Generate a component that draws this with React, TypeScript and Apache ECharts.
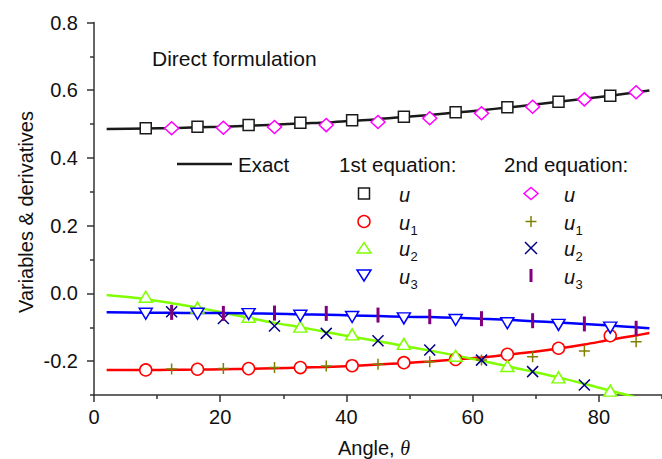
import React, { useEffect, useRef } from 'react';
import * as echarts from 'echarts';

// ---------- data ----------
const lineTheta = [2, 8.2, 12.3, 16.4, 20.5, 24.5, 28.6, 32.7, 36.8, 40.9, 45.0, 49.1, 53.2, 57.3, 61.4, 65.5, 69.5, 73.6, 77.7, 81.8, 85.9, 88];
const exactU = [0.4855, 0.487, 0.488, 0.4905, 0.492, 0.495, 0.498, 0.502, 0.505, 0.510, 0.5145, 0.521, 0.527, 0.534, 0.541, 0.549, 0.557, 0.566, 0.575, 0.584, 0.594, 0.599];
const exactU1 = [-0.226, -0.226, -0.2255, -0.225, -0.224, -0.223, -0.221, -0.219, -0.217, -0.214, -0.210, -0.206, -0.201, -0.195, -0.189, -0.181, -0.173, -0.163, -0.151, -0.137, -0.124, -0.117];
const exactU2 = [-0.005, -0.017, -0.029, -0.042, -0.057, -0.072, -0.087, -0.100, -0.114, -0.128, -0.141, -0.155, -0.169, -0.183, -0.199, -0.215, -0.231, -0.248, -0.267, -0.287, -0.307, -0.318];
const exactU3 = [-0.056, -0.057, -0.057, -0.058, -0.058, -0.059, -0.060, -0.062, -0.063, -0.065, -0.067, -0.069, -0.070, -0.072, -0.075, -0.078, -0.082, -0.086, -0.090, -0.095, -0.100, -0.103];

const eq1Theta = [8.2, 16.4, 24.5, 32.7, 40.9, 49.1, 57.3, 65.5, 73.6, 81.8];
const eq1U = [0.4876, 0.4924, 0.4973, 0.504, 0.511, 0.522, 0.535, 0.5496, 0.566, 0.584];
const eq1U1 = [-0.226, -0.224, -0.222, -0.219, -0.2135, -0.2046, -0.1947, -0.180, -0.162, -0.125];
const eq1U2 = [-0.010, -0.042, -0.069, -0.098, -0.121, -0.149, -0.184, -0.2145, -0.248, -0.287];
const eq1U3 = [-0.060, -0.060, -0.061, -0.066, -0.0697, -0.0736, -0.0787, -0.088, -0.093, -0.101];

const eq2Theta = [12.3, 20.5, 28.6, 36.8, 45.0, 53.2, 61.4, 69.5, 77.7, 85.9];
const eq2U = [0.4876, 0.489, 0.4915, 0.497, 0.506, 0.517, 0.532, 0.551, 0.573, 0.594];
const eq2U1 = [-0.2235, -0.2215, -0.219, -0.2145, -0.2095, -0.2017, -0.197, -0.187, -0.170, -0.143];
const eq2U2 = [-0.054, -0.074, -0.096, -0.118, -0.140, -0.167, -0.197, -0.231, -0.2705];
const eq2U3 = [-0.056, -0.059, -0.058, -0.059, -0.064, -0.0688, -0.0747, -0.0806, -0.090, -0.103];

const xTicks = [0, 20, 40, 60, 80];
const xMinorTicks = [10, 30, 50, 70, 90];
const yTicks = [-0.2, 0, 0.2, 0.4, 0.6, 0.8];
const yMinorTicks = [-0.3, -0.1, 0.1, 0.3, 0.5, 0.7];

const titleText = 'Direct formulation';
const yTitle = 'Variables & derivatives';
const xTitle = 'Angle, ';
const exactLabel = 'Exact';
const eq1Label = '1st equation:';
const eq2Label = '2nd equation:';
const subs = ['', '1', '2', '3'];

// ---------- styles ----------
const FONT = 'Liberation Sans, Arial, sans-serif';
const TXT = '#111';
const AX = '#333';
const C_BLACK = '#1a1a1a';
const C_RED = '#ff0000';
const C_GREEN = '#80ff00';
const C_BLUE = '#0000ff';
const C_MAG = '#ff00ff';
const C_OLIVE = '#808000';
const C_NAVY = '#000080';
const C_PURPLE = '#800080';

const W = 662;
const H = 459;
const G_LEFT = 94;
const G_TOP = 22.5;
const G_BOTTOM = 64;
const G_RIGHT = 0;

const zip = (xs: number[], ys: number[]) => ys.map((y, i) => [xs[i], y]);

const PLUS = 'path://M5 0L5 10M0 5L10 5';
const CROSS = 'path://M0 0L10 10M10 0L0 10';

function lineSeries(data: number[], color: string) {
  return {
    type: 'line',
    data: zip(lineTheta, data),
    smooth: 0.3,
    symbol: 'none',
    showSymbol: false,
    clip: true,
    z: 2,
    lineStyle: { color, width: 2.5 },
  };
}

function scatter(xs: number[], ys: number[], symbol: string, size: any, fill: string, stroke: string, bw: number, rotate = 0) {
  return {
    type: 'scatter',
    data: zip(xs, ys),
    symbol,
    symbolSize: size,
    symbolRotate: rotate,
    clip: true,
    z: 3,
    itemStyle: { color: fill, borderColor: stroke, borderWidth: bw, opacity: 1 },
  };
}

function legendGraphics() {
  const c1 = 364;
  const c2 = 531;
  const t1 = 399;
  const t2 = 564;
  const rows = [193.5, 221.5, 248, 275.5];
  const els: any[] = [];
  const lw = 1.5;
  // column 1
  els.push({ type: 'rect', shape: { x: c1 - 5.5, y: rows[0] - 5.5, width: 11, height: 11 }, style: { fill: '#fff', stroke: C_BLACK, lineWidth: lw } });
  els.push({ type: 'circle', shape: { cx: c1, cy: rows[1], r: 6 }, style: { fill: '#fff', stroke: C_RED, lineWidth: lw } });
  els.push({ type: 'polygon', shape: { points: [[c1 - 7, rows[2] + 5], [c1 + 7, rows[2] + 5], [c1, rows[2] - 5.5]] }, style: { fill: '#fff', stroke: C_GREEN, lineWidth: lw } });
  els.push({ type: 'polygon', shape: { points: [[c1 - 7, rows[3] - 5.5], [c1 + 7, rows[3] - 5.5], [c1, rows[3] + 5.5]] }, style: { fill: '#fff', stroke: C_BLUE, lineWidth: lw } });
  // column 2
  els.push({ type: 'polygon', shape: { points: [[c2 - 7, rows[0]], [c2, rows[0] - 6], [c2 + 7, rows[0]], [c2, rows[0] + 6]] }, style: { fill: '#fff', stroke: C_MAG, lineWidth: lw } });
  els.push({ type: 'line', shape: { x1: c2 - 5.5, y1: rows[1], x2: c2 + 5.5, y2: rows[1] }, style: { stroke: C_OLIVE, lineWidth: lw } });
  els.push({ type: 'line', shape: { x1: c2, y1: rows[1] - 5.5, x2: c2, y2: rows[1] + 5.5 }, style: { stroke: C_OLIVE, lineWidth: lw } });
  els.push({ type: 'line', shape: { x1: c2 - 6, y1: rows[2] - 6, x2: c2 + 6, y2: rows[2] + 6 }, style: { stroke: C_NAVY, lineWidth: lw } });
  els.push({ type: 'line', shape: { x1: c2 - 6, y1: rows[2] + 6, x2: c2 + 6, y2: rows[2] - 6 }, style: { stroke: C_NAVY, lineWidth: lw } });
  els.push({ type: 'rect', shape: { x: c2 - 1.5, y: rows[3] - 6.5, width: 3, height: 13 }, style: { fill: C_PURPLE } });
  // labels
  [t1, t2].forEach((tx) => {
    rows.forEach((ry, i) => {
      els.push({ type: 'text', x: tx, y: ry + 1, style: { text: 'u', fontSize: 20, fontStyle: 'italic', fontFamily: FONT, fill: TXT, align: 'left', verticalAlign: 'middle' } });
      if (subs[i]) {
        els.push({ type: 'text', x: tx + 11.5, y: ry + 8.5, style: { text: subs[i], fontSize: 13, fontFamily: FONT, fill: TXT, align: 'left', verticalAlign: 'middle' } });
      }
    });
  });
  // header row
  els.push({ type: 'line', shape: { x1: 177, y1: 164, x2: 232, y2: 164 }, style: { stroke: C_BLACK, lineWidth: 2.5 } });
  els.push({ type: 'text', x: 238, y: 164.5, style: { text: exactLabel, fontSize: 20.5, fontFamily: FONT, fill: TXT, align: 'left', verticalAlign: 'middle' } });
  els.push({ type: 'text', x: 339, y: 164.5, style: { text: eq1Label, fontSize: 20.5, fontFamily: FONT, fill: TXT, align: 'left', verticalAlign: 'middle' } });
  els.push({ type: 'text', x: 504, y: 164.5, style: { text: eq2Label, fontSize: 20.5, fontFamily: FONT, fill: TXT, align: 'left', verticalAlign: 'middle' } });
  return els;
}

export default function App() {
  const ref = useRef<HTMLDivElement>(null);
  useEffect(() => {
    if (!ref.current) return;
    const chart = echarts.init(ref.current, undefined, { renderer: 'svg' });
    const gridH = H - G_TOP - G_BOTTOM;
    const gridW = W - G_LEFT - G_RIGHT;
    const option: any = {
      animation: false,
      backgroundColor: '#fff',
      grid: { left: G_LEFT, right: G_RIGHT, top: G_TOP, bottom: G_BOTTOM, containLabel: false },
      xAxis: [
        {
          type: 'value', min: 0, max: 90, position: 'bottom',
          axisLine: { onZero: false, lineStyle: { color: AX, width: 1.5 } },
          axisTick: { customValues: xTicks, length: 7, lineStyle: { color: AX, width: 1.5 } },
          axisLabel: { customValues: xTicks, fontSize: 20, fontFamily: FONT, color: TXT, margin: 12 },
          splitLine: { show: false },
        },
        {
          type: 'value', min: 0, max: 90, position: 'top', offset: -gridH,
          axisLine: { show: false, onZero: false },
          axisTick: { customValues: xMinorTicks, length: 4, inside: true, lineStyle: { color: AX, width: 1.5 } },
          axisLabel: { show: false },
          splitLine: { show: false },
        },
      ],
      yAxis: [
        {
          type: 'value', min: -0.3, max: 0.8, position: 'left',
          axisLine: { show: true, onZero: false, lineStyle: { color: AX, width: 1.5 } },
          axisTick: { show: true, customValues: yTicks, length: 7, lineStyle: { color: AX, width: 1.5 } },
          axisLabel: { customValues: yTicks, fontSize: 20, fontFamily: FONT, color: TXT, margin: 16, formatter: (v: number) => v.toFixed(1) },
          splitLine: { show: false },
        },
        {
          type: 'value', min: -0.3, max: 0.8, position: 'right', offset: -gridW,
          axisLine: { show: false, onZero: false },
          axisTick: { show: true, customValues: yMinorTicks, length: 4, inside: true, lineStyle: { color: AX, width: 1.5 } },
          axisLabel: { show: false },
          splitLine: { show: false },
        },
      ],
      series: [
        lineSeries(exactU, C_BLACK),
        lineSeries(exactU1, C_RED),
        lineSeries(exactU2, C_GREEN),
        lineSeries(exactU3, C_BLUE),
        scatter(eq1Theta, eq1U, 'rect', 11, '#fff', C_BLACK, 1.5),
        scatter(eq2Theta, eq2U, 'diamond', [14, 13], '#fff', C_MAG, 1.5),
        scatter(eq1Theta, eq1U1, 'circle', 12, '#fff', C_RED, 1.5),
        scatter(eq1Theta, eq1U2, 'triangle', [13, 11], '#fff', C_GREEN, 1.5),
        scatter(eq1Theta, eq1U3, 'triangle', [13, 11], '#fff', C_BLUE, 1.5, 180),
        scatter(eq2Theta, eq2U1, PLUS, 11, 'rgba(0,0,0,0)', C_OLIVE, 1.5),
        scatter(eq2Theta, eq2U2, CROSS, 11, 'rgba(0,0,0,0)', C_NAVY, 1.5),
        scatter(eq2Theta, eq2U3, 'rect', [3, 15], C_PURPLE, C_PURPLE, 0),
      ],
      graphic: [
        { type: 'text', x: 152, y: 58, style: { text: titleText, fontSize: 21, fontFamily: FONT, fill: TXT, align: 'left', verticalAlign: 'middle' } },
        { type: 'text', x: 25.5, y: 212, rotation: Math.PI / 2, style: { text: yTitle, fontSize: 20, fontFamily: FONT, fill: TXT, align: 'center', verticalAlign: 'middle' } },
        {
          type: 'text', x: 374, y: 448,
          style: {
            text: '{a|' + xTitle + '}{t|θ}',
            align: 'center', verticalAlign: 'middle',
            rich: {
              a: { fontSize: 20, fontFamily: FONT, fill: TXT },
              t: { fontSize: 20, fontFamily: 'Liberation Serif, serif', fontStyle: 'italic', fill: TXT },
            },
          },
        },
        ...legendGraphics(),
      ],
    };
    chart.setOption(option);
    return () => chart.dispose();
  }, []);
  return <div ref={ref} style={{ position: 'absolute', left: 0, top: 0, width: W, height: H }} />;
}
